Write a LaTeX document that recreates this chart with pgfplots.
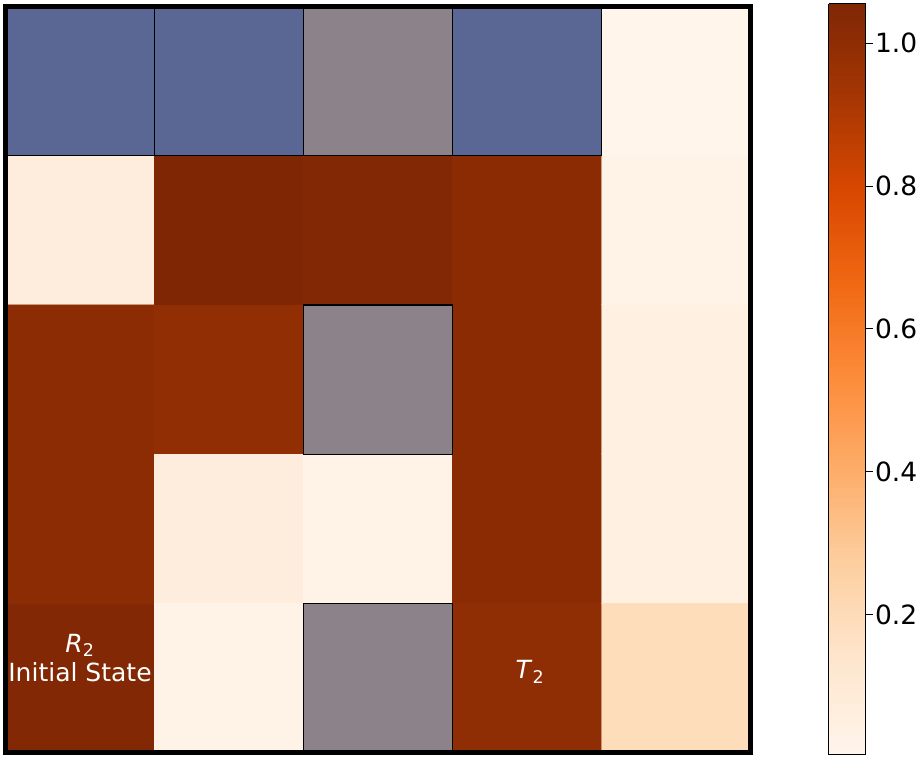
\documentclass[border=0pt]{standalone}
\usepackage{pgfplots}
\pgfplotsset{compat=1.18}
\usepackage{fontspec}
\setmainfont{DejaVu Sans}
\definecolor{wallblue}{RGB}{90,102,148}
\definecolor{wallgray}{RGB}{140,130,137}
\pgfplotstableread{
x y c
0 0 0.5
1 0 0.5
2 0 0.5
3 0 0.5
4 0 0.005
0 1 0.07
1 1 1.055
2 1 1.045
3 1 1.02
4 1 0.02
0 2 1.015
1 2 0.99
2 2 0.5
3 2 1.02
4 2 0.045
0 3 1.015
1 3 0.07
2 3 0.025
3 3 1.02
4 3 0.05
0 4 1.045
1 4 0.025
2 4 0.5
3 4 1.0
4 4 0.19
}\grid
\begin{document}
\begin{tikzpicture}
\begin{axis}[
  at={(0,0)}, anchor=south west,
  scale only axis, width=745pt, height=746pt,
  xmin=-0.5, xmax=4.5, ymin=-0.5, ymax=4.5, y dir=reverse,
  xtick=\empty, ytick=\empty,
  axis line style={line width=5pt}, axis on top,
  colormap={oranges}{rgb255=(255,245,235) rgb255=(254,230,206) rgb255=(253,208,162)
    rgb255=(253,174,107) rgb255=(253,141,60) rgb255=(241,105,19) rgb255=(217,72,1)
    rgb255=(166,54,3) rgb255=(127,39,4)},
  point meta min=0.003, point meta max=1.055,
  colorbar sampled,
  colorbar style={
    at={(parent axis.south east)}, anchor=south west,
    xshift=69.5pt, yshift=-2.5pt,
    scale only axis, width=37pt, height=751pt,
    samples=200,
    ytick={0.2,0.4,0.6,0.8,1.0}, minor ytick={},
    ytick pos=right, yticklabel pos=right, tick align=outside,
    major tick length=7pt,
    tick style={black, line width=1pt},
    axis line style={line width=1pt},
    yticklabel style={font=\fontsize{26.5}{30}\selectfont, xshift=-1pt,
      /pgf/number format/.cd, fixed, fixed zerofill, precision=1, assume math mode=true},
  },
]
\addplot[matrix plot*, mesh/cols=5, point meta=explicit] table[x=x, y=y, meta=c] {\grid};
% walls and blocked cells
\addplot[draw=black, fill=wallblue, line width=1.2pt, mark=none, forget plot] coordinates {(-0.5,-0.5) (0.5,-0.5) (0.5,0.5) (-0.5,0.5)} -- cycle;
\addplot[draw=black, fill=wallblue, line width=1.2pt, mark=none, forget plot] coordinates {(0.5,-0.5) (1.5,-0.5) (1.5,0.5) (0.5,0.5)} -- cycle;
\addplot[draw=black, fill=wallblue, line width=1.2pt, mark=none, forget plot] coordinates {(2.5,-0.5) (3.5,-0.5) (3.5,0.5) (2.5,0.5)} -- cycle;
\addplot[draw=black, fill=wallgray, line width=1.2pt, mark=none, forget plot] coordinates {(1.5,-0.5) (2.5,-0.5) (2.5,0.5) (1.5,0.5)} -- cycle;
\addplot[draw=black, fill=wallgray, line width=1.2pt, mark=none, forget plot] coordinates {(1.5,1.5) (2.5,1.5) (2.5,2.5) (1.5,2.5)} -- cycle;
\addplot[draw=black, fill=wallgray, line width=1.2pt, mark=none, forget plot] coordinates {(1.5,3.5) (2.5,3.5) (2.5,4.5) (1.5,4.5)} -- cycle;
\node[white, font=\fontsize{25}{29}\selectfont, align=center] at (axis cs:0,4) [yshift=20pt] {\textit{R}\textsubscript{2}\\Initial State};
\node[white, font=\fontsize{25}{29}\selectfont] at (axis cs:3,4) [xshift=3pt, yshift=6pt] {\textit{T}\textsubscript{2}};
\end{axis}
\pgfresetboundingbox
\path (-5.5pt,-7.5pt) rectangle (915.5pt,752.5pt);
\end{tikzpicture}
\end{document}
